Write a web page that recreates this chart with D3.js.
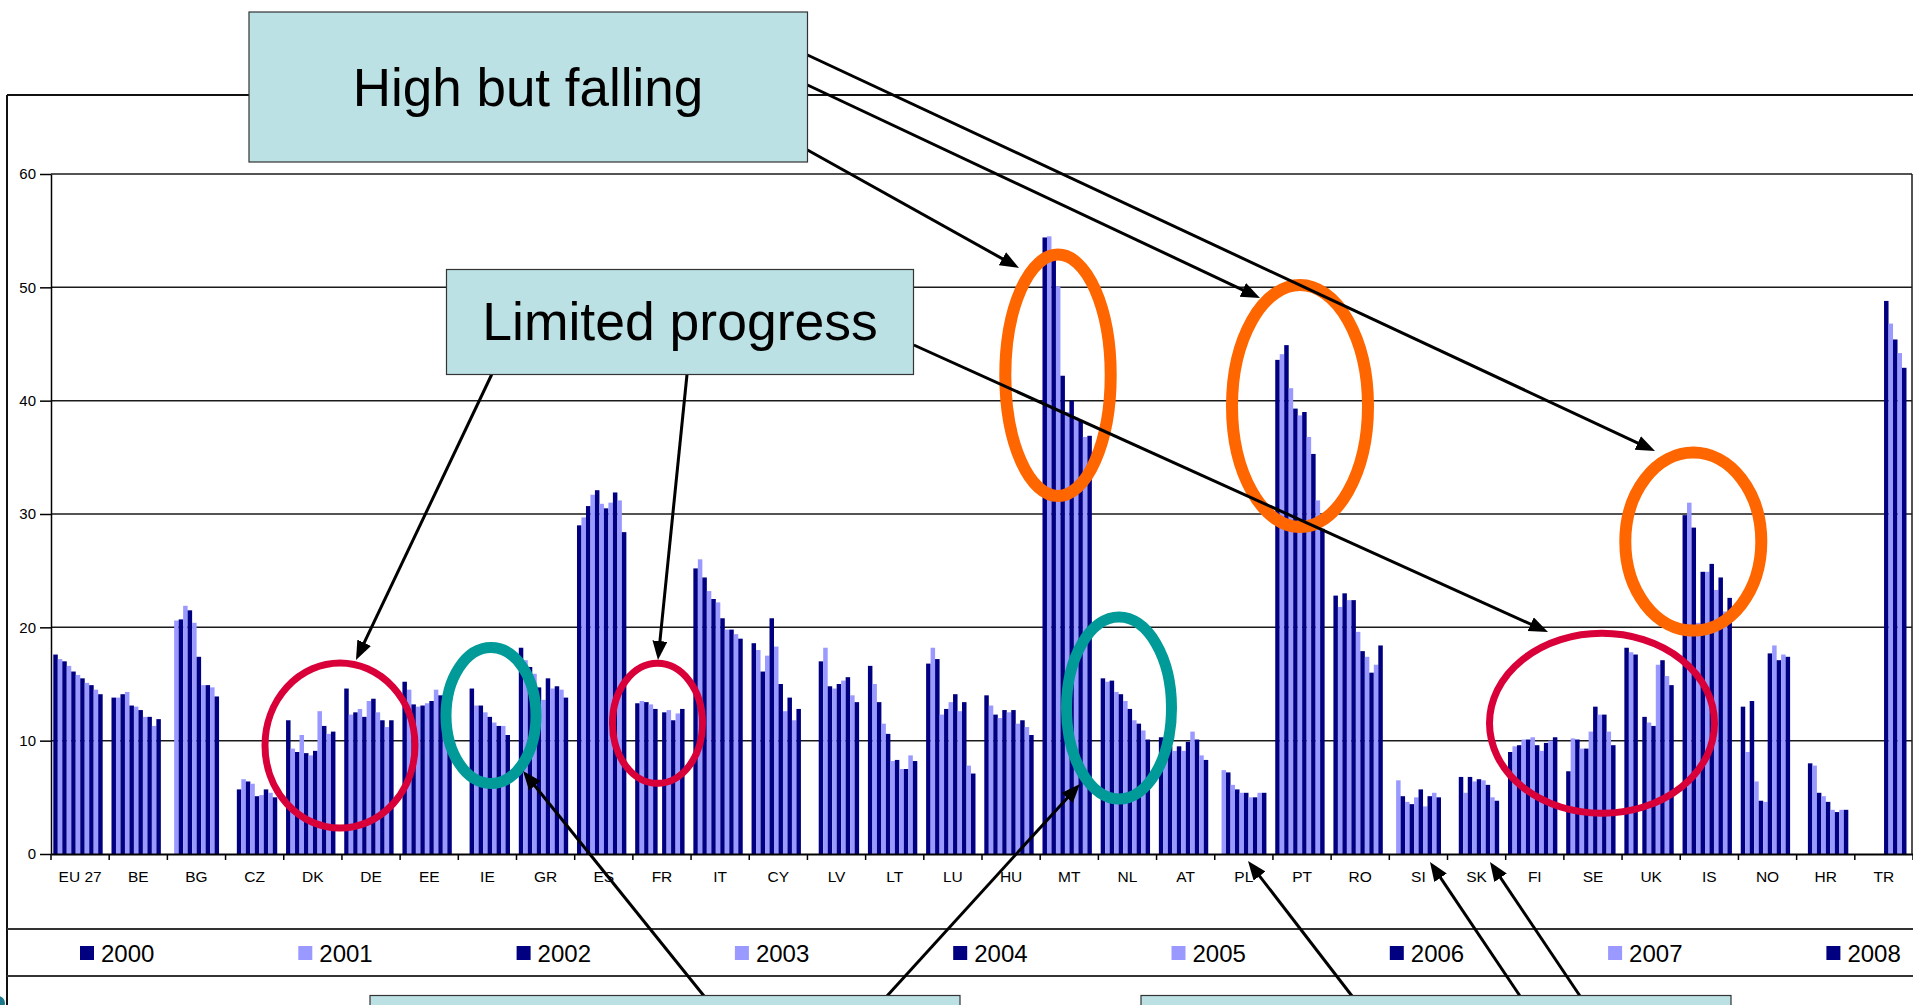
<!DOCTYPE html>
<html>
<head>
<meta charset="utf-8">
<script src="https://cdn.jsdelivr.net/npm/d3@7"></script>
<style>
  body { margin: 0; background: #fff; overflow: hidden; }
  svg { display: block; font-family: Arial, "Liberation Sans", sans-serif; }
</style>
</head>
<body>
<svg id="chart" width="1913" height="1005"></svg>
<script>
const categories = ["EU 27", "BE", "BG", "CZ", "DK", "DE", "EE", "IE", "GR", "ES", "FR", "IT", "CY", "LV", "LT", "LU",
  "HU", "MT", "NL", "AT", "PL", "PT", "RO", "SI", "SK", "FI", "SE", "UK", "IS", "NO", "HR", "TR"];
const years = ["2000", "2001", "2002", "2003", "2004", "2005", "2006", "2007", "2008", "2009", "2010"];

// early leavers, one value per category, null = no data
const v2000 = [17.6, 13.8, null, null, 11.8, 14.6, 15.2, null, 18.2, 29.0, 13.3, 25.2, 18.6, null, 16.6, 16.8, 14.0, 54.4, 15.5, 10.3, null, 43.6, 22.8, null, null, 9.0, 7.3, 18.2, 29.9, 13.0, null, null];
const v2001 = [17.2, 13.8, 20.6, null, 9.3, 12.3, 14.5, null, 17.1, 29.7, 13.5, 26.0, 18.0, null, 15.0, 18.2, 13.1, 54.5, 15.2, 10.2, 7.4, 44.1, 21.8, 6.5, null, 9.5, 10.2, 17.8, 31.0, 9.0, null, null];
const v2002 = [17.0, 14.1, 20.7, 5.7, 9.0, 12.5, 13.2, 14.6, 16.5, 30.7, 13.4, 24.4, 16.1, 17.0, 13.4, 17.2, 12.3, 53.2, 15.3, 9.5, 7.2, 44.9, 23.0, 5.1, 6.8, 9.6, 10.1, 17.6, 28.8, 13.5, 8.0, null];
const v2003 = [16.6, 14.3, 21.9, 6.6, 10.5, 12.8, 13.0, 13.1, 15.9, 31.7, 13.2, 23.2, 17.5, 18.2, 11.5, 12.3, 12.0, 50.1, 14.3, 9.1, 6.1, 41.1, 22.4, 4.6, 5.4, 10.1, 9.3, null, 20.4, 6.4, 7.8, null];
const v2004 = [16.1, 13.1, 21.5, 6.4, 8.9, 12.1, 13.1, 13.1, 14.7, 32.1, 12.8, 22.5, 20.8, 14.8, 10.6, 12.8, 12.7, 42.2, 14.1, 9.5, 5.7, 39.3, 22.4, 4.4, 6.8, 10.1, 9.3, 12.1, 24.9, 4.7, 5.4, null];
const v2005 = [15.8, 13.0, 20.4, 6.2, 8.7, 13.5, 13.3, 12.5, 13.6, 30.9, null, 22.2, 18.3, 14.6, 8.2, 13.4, 12.5, 39.0, 13.5, 9.1, 5.4, 38.7, 19.6, 5.0, 6.4, 10.3, 10.8, 11.6, 24.9, 4.6, 5.1, null];
const v2006 = [15.5, 12.7, 17.4, 5.1, 9.1, 13.7, 13.5, 12.1, 15.5, 30.5, 12.5, 20.8, 15.0, 15.0, 8.3, 14.1, 12.7, 40.0, 12.8, 9.9, 5.4, 39.0, 17.9, 5.7, 6.6, 9.6, 13.0, 11.3, 25.6, 17.7, 4.6, 48.8];
const v2007 = [15.1, 12.1, 14.9, 5.2, 12.6, 12.5, 14.5, 11.6, 14.6, 31.0, 12.7, 19.8, 12.6, 15.3, 7.5, 12.6, 11.5, 38.5, 11.8, 10.8, 5.0, 36.8, 17.4, 4.2, 6.5, 9.1, 12.3, 16.7, 23.3, 18.4, 3.9, 46.8];
const v2008 = [14.9, 12.1, 14.9, 5.7, 11.3, 11.8, 14.0, 11.3, 14.8, 31.9, 11.8, 19.8, 13.8, 15.6, 7.5, 13.4, 11.8, 38.3, 11.5, 10.1, 5.0, 35.3, 16.0, 5.1, 6.1, 9.8, 12.3, 17.1, 24.4, 17.1, 3.7, 45.4];
const v2009 = [14.5, 11.3, 14.7, 5.4, 10.6, 11.2, 13.9, 11.3, 14.5, 31.2, 12.4, 19.4, 11.8, 14.0, 8.7, 7.8, 11.2, 36.8, 10.9, 8.7, 5.4, 31.2, 16.7, 5.4, 5.0, 10.0, 10.8, 15.7, 21.4, 17.6, 3.9, 44.2];
const v2010 = [14.1, 11.9, 13.9, 5.0, 10.8, 11.8, 11.0, 10.5, 13.8, 28.4, 12.8, 19.0, 12.8, 13.4, 8.2, 7.1, 10.5, 36.9, 10.1, 8.3, 5.4, 28.7, 18.4, 5.0, 4.7, 10.3, 9.6, 14.9, 22.6, 17.4, 3.9, 42.9];
const yTicks = [0, 10, 20, 30, 40, 50, 60];

const series = [v2000, v2001, v2002, v2003, v2004, v2005, v2006, v2007, v2008, v2009, v2010];
const dark = "#000080", light = "#9999ff";
const colour = d3.scaleOrdinal().domain(years).range(years.map((d, i) => i % 2 ? light : dark));

const svg = d3.select("#chart");
const x0 = d3.scaleBand().domain(categories).range([51, 1913]);
const x1 = d3.scaleBand().domain(years).range([2.3, x0.bandwidth() * 0.888]);
const y = d3.scaleLinear().domain([0, 60]).range([854, 174]);

// Gridlines
svg.append("g")
  .selectAll("line.grid")
  .data(yTicks.slice(1))
  .enter()
  .append("line")
  .attr("x1", 51)
  .attr("x2", 1912)
  .attr("y1", d => y(d))
  .attr("y2", d => y(d))
  .attr("stroke", "#1a1a1a")
  .attr("stroke-width", 1.5);

// Bars
const cells = [];
series.forEach(function (vals, j) {
  vals.forEach(function (v, i) {
    if (v !== null) cells.push({ cat: categories[i], year: years[j], value: v });
  });
});
svg.append("g")
  .selectAll("rect.bar")
  .data(cells)
  .enter()
  .append("rect")
  .attr("x", d => x0(d.cat) + x1(d.year))
  .attr("width", x1.bandwidth())
  .attr("y", d => y(d.value))
  .attr("height", d => y(0) - y(d.value))
  .attr("fill", d => colour(d.year));

// Y axis
const yAxis = svg.append("g")
  .attr("transform", "translate(51,0)")
  .call(d3.axisLeft(y).tickValues(yTicks).tickSize(11).tickSizeOuter(0).tickPadding(4));
yAxis.selectAll("text").attr("font-size", 15).attr("fill", "#000").attr("font-family", "Arial, 'Liberation Sans', sans-serif");
yAxis.selectAll("line,path").attr("stroke", "#000").attr("stroke-width", 1.5);

// X axis: labels centred, ticks on category boundaries
const xAxis = svg.append("g")
  .attr("transform", "translate(0,854)")
  .call(d3.axisBottom(x0).tickSize(0).tickPadding(17));
xAxis.select("path").attr("stroke", "#000").attr("stroke-width", 2);
xAxis.selectAll("text").attr("font-size", 15.5).attr("fill", "#000").attr("font-family", "Arial, 'Liberation Sans', sans-serif");
svg.append("g")
  .selectAll("line.xtick")
  .data(categories.concat([null]))
  .enter()
  .append("line")
  .attr("x1", (d, i) => 51 + i * x0.step())
  .attr("x2", (d, i) => 51 + i * x0.step())
  .attr("y1", 854)
  .attr("y2", 860)
  .attr("stroke", "#000")
  .attr("stroke-width", 1.5);

// plot right border
svg.append("line").attr("x1", 1912).attr("x2", 1912).attr("y1", 174).attr("y2", 854)
  .attr("stroke", "#1a1a1a").attr("stroke-width", 1.5);

// chart frame and legend band
const frame = svg.append("g").attr("stroke", "#111").attr("stroke-width", 2);
frame.append("line").attr("x1", 7).attr("x2", 1913).attr("y1", 95).attr("y2", 95);
frame.append("line").attr("x1", 7).attr("x2", 7).attr("y1", 95).attr("y2", 1005);
frame.append("line").attr("x1", 7).attr("x2", 1913).attr("y1", 929).attr("y2", 929).attr("stroke", "#333");
frame.append("line").attr("x1", 7).attr("x2", 1913).attr("y1", 976).attr("y2", 976).attr("stroke", "#333");

// Legend (the band runs past the right edge; only the items that fit are drawn)
const legendStep = 218.3;
const legend = svg.append("g")
  .selectAll("g.item")
  .data(years.filter((d, i) => 80 + i * legendStep < 1860))
  .enter()
  .append("g")
  .attr("transform", (d, i) => "translate(" + (80 + i * legendStep) + ",946)");
legend.append("rect").attr("width", 14).attr("height", 14).attr("fill", d => colour(d));
legend.append("text").attr("x", 21).attr("y", 15.5).attr("font-size", 24).text(d => d);

// Ellipses
const rings = [
  { cx: 340, cy: 745.5, rx: 75, ry: 82.5, w: 7, c: "#d9003a" },
  { cx: 491, cy: 715.5, rx: 45, ry: 68, w: 11, c: "#009a98" },
  { cx: 657.5, cy: 723.3, rx: 45, ry: 60, w: 7, c: "#d9003a" },
  { cx: 1058, cy: 375.3, rx: 52.7, ry: 120.7, w: 12, c: "#ff6600" },
  { cx: 1119, cy: 708, rx: 52.5, ry: 91, w: 11, c: "#009a98" },
  { cx: 1300, cy: 406, rx: 68, ry: 121, w: 12, c: "#ff6600" },
  { cx: 1693.3, cy: 541.6, rx: 68, ry: 89, w: 12, c: "#ff6600" },
  { cx: 1602, cy: 723.3, rx: 112.5, ry: 90, w: 7, c: "#d9003a" }
];
svg.append("g")
  .selectAll("ellipse")
  .data(rings)
  .enter()
  .append("ellipse")
  .attr("cx", d => d.cx).attr("cy", d => d.cy)
  .attr("rx", d => d.rx).attr("ry", d => d.ry)
  .attr("fill", "none")
  .attr("stroke", d => d.c)
  .attr("stroke-width", d => d.w);

// Arrows
svg.append("defs").append("marker")
  .attr("id", "head")
  .attr("markerUnits", "userSpaceOnUse")
  .attr("markerWidth", 20).attr("markerHeight", 16)
  .attr("refX", 12).attr("refY", 7.5)
  .attr("orient", "auto")
  .append("path")
  .attr("d", "M0,0 L19,7.5 L0,15 Z")
  .attr("fill", "#000");
const arrows = [
  [807.5, 150, 1019, 268], [807.5, 85, 1260, 298], [807.5, 55, 1655, 451],
  [491.7, 374.5, 356, 660], [687, 374.5, 658, 660], [913.8, 345, 1548, 632],
  [704, 996, 523, 771], [887, 996, 1080, 784],
  [1352, 996, 1248, 861], [1520, 996, 1430, 862], [1580, 996, 1490, 862]
];
svg.append("g")
  .selectAll("line.arrow")
  .data(arrows)
  .enter()
  .append("line")
  .attr("x1", d => d[0]).attr("y1", d => d[1])
  .attr("x2", function (d) {
    const l = Math.hypot(d[2] - d[0], d[3] - d[1]);
    return d[2] - 7 * (d[2] - d[0]) / l;
  })
  .attr("y2", function (d) {
    const l = Math.hypot(d[2] - d[0], d[3] - d[1]);
    return d[3] - 7 * (d[3] - d[1]) / l;
  })
  .attr("stroke", "#000")
  .attr("stroke-width", 3)
  .attr("marker-end", "url(#head)");

// Callout boxes
const boxes = [
  { x: 249, y: 12, w: 558.5, h: 150, text: "High but falling", tx: 528, ty: 106, fs: 53 },
  { x: 446.5, y: 269.5, w: 467, h: 105, text: "Limited progress", tx: 680, ty: 340, fs: 53.5 },
  { x: 370, y: 995.5, w: 590, h: 40, text: "", tx: 0, ty: 0, fs: 10 },
  { x: 1141, y: 995.5, w: 590, h: 40, text: "", tx: 0, ty: 0, fs: 10 }
];
const box = svg.append("g")
  .selectAll("g.box")
  .data(boxes)
  .enter()
  .append("g");
box.append("rect")
  .attr("x", d => d.x).attr("y", d => d.y)
  .attr("width", d => d.w).attr("height", d => d.h)
  .attr("fill", "#bce1e4")
  .attr("stroke", "#333")
  .attr("stroke-width", 1.2);
box.filter(d => d.text !== "").append("text")
  .attr("x", d => d.tx).attr("y", d => d.ty)
  .attr("text-anchor", "middle")
  .attr("font-size", d => d.fs)
  .attr("fill", "#000")
  .text(d => d.text);

// corner of the slide logo
svg.append("circle").attr("cx", -2).attr("cy", 1003).attr("r", 7).attr("fill", "#1f7a8c");
</script>
</body>
</html>
